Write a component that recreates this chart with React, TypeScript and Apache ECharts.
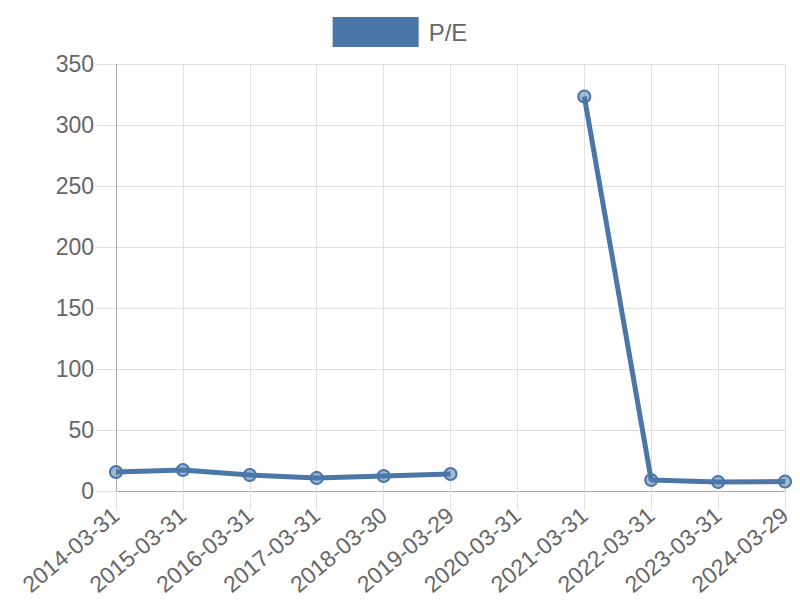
import React, { useEffect, useRef } from "react";
import * as echarts from "echarts";

const categories = [
  "2014-03-31", "2015-03-31", "2016-03-31", "2017-03-31", "2018-03-30", "2019-03-29",
  "2020-03-31", "2021-03-31", "2022-03-31", "2023-03-31", "2024-03-29",
];
const peValues: (number | null)[] = [15.6, 17.2, 13.1, 10.7, 12.3, 13.9, null, 323.4, 9.0, 7.4, 7.8];
const seriesName = "P/E";

export default function App() {
  const ref = useRef<HTMLDivElement>(null);
  useEffect(() => {
    if (!ref.current) return;
    const chart = echarts.init(ref.current, undefined, { renderer: "svg" });
    const lineColor = "#4a76a8";
    const font = "Liberation Sans, Arial, sans-serif";
    chart.setOption({
      animation: false,
      legend: {
        top: 12,
        left: "center",
        itemWidth: 86,
        itemHeight: 30,
        itemGap: 10,
        icon: "rect",
        textStyle: { fontSize: 24, color: "#666", fontFamily: font, padding: [0, 0, 0, 5] },
        data: [{ name: seriesName, itemStyle: { color: lineColor, borderWidth: 0 } }],
      },
      grid: { left: 116, right: 15, top: 64, bottom: 109, containLabel: false },
      xAxis: {
        type: "category",
        data: categories,
        boundaryGap: false,
        axisLine: { show: true, lineStyle: { color: "#aaa", width: 1 } },
        axisTick: { show: true, alignWithLabel: true, length: 19, lineStyle: { color: "#e0e0e0" } },
        splitLine: { show: true, lineStyle: { color: "#e0e0e0", width: 1 } },
        axisLabel: {
          rotate: 40,
          fontSize: 23,
          color: "#666",
          margin: 21,
          interval: 0,
          fontFamily: font,
        },
      },
      yAxis: {
        type: "value",
        min: 0,
        max: 350,
        interval: 50,
        axisLine: { show: true, lineStyle: { color: "#aaa", width: 1 } },
        axisTick: { show: true, length: 20, lineStyle: { color: "#e0e0e0" } },
        splitLine: { show: true, lineStyle: { color: "#e0e0e0", width: 1 } },
        axisLabel: {
          fontSize: 23,
          color: "#666",
          margin: 22,
          fontFamily: font,
        },
      },
      series: [
        {
          name: seriesName,
          type: "line",
          data: peValues,
          connectNulls: false,
          symbol: "circle",
          symbolSize: 12,
          lineStyle: { color: lineColor, width: 5 },
          itemStyle: { color: "rgba(74,118,168,0.5)", borderColor: lineColor, borderWidth: 2 },
          emphasis: { disabled: true },
        },
      ],
    });
    return () => chart.dispose();
  }, []);
  return <div ref={ref} style={{ width: 800, height: 600, position: "absolute", left: 0, top: 0 }} />;
}
